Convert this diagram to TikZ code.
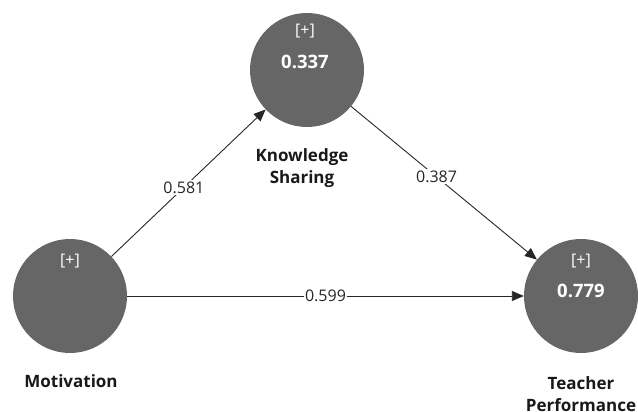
\documentclass[tikz,border=0pt]{standalone}
\usepackage{fontspec}
\setmainfont{Open Sans}
\usetikzlibrary{arrows.meta}
\begin{document}
\begin{tikzpicture}[x=1pt,y=-1pt,
  latent/.style={circle,fill=black!60,minimum size=114pt,inner sep=0pt},
  ctext/.style={text=white,font=\fontsize{16}{18}\selectfont},
  cval/.style={text=white,font=\fontsize{18.5}{20}\selectfont\bfseries},
  lvname/.style={font=\fontsize{17}{22}\selectfont\bfseries,align=center,text=black!90},
  pathline/.style={draw=black!85,line width=0.9pt,-{Triangle[length=12pt,width=10pt]}},
  coef/.style={fill=white,inner sep=1.5pt,font=\fontsize{16}{18}\selectfont,text=black!85}]
\useasboundingbox (0,0) rectangle (638,412);
\node[latent] (ks) at (307,70) {};
\node[latent] (mot) at (70,296) {};
\node[latent] (tp) at (581,296) {};
\node[ctext] (ksp) at (305,31) {[+]};
\node[cval] (ksv) at (305,62) {0.337};
\node[ctext] (motp) at (70,261) {[+]};
\node[ctext] (tpp) at (581,261) {[+]};
\node[cval] (tpv) at (581,291) {0.779};
\node[lvname] (ksn) at (302,168) {Knowledge\\Sharing};
\node[lvname] (motn) at (71,381) {Motivation};
\node[lvname,anchor=north] (tpn) at (581,373) {Teacher\\Performance};
\draw[pathline] (mot) -- node[coef,pos=0.47] {0.581} (ks);
\draw[pathline] (ks) -- node[coef,pos=0.46] {0.387} (tp);
\draw[pathline] (mot) -- node[coef] {0.599} (tp);
\end{tikzpicture}
\end{document}
